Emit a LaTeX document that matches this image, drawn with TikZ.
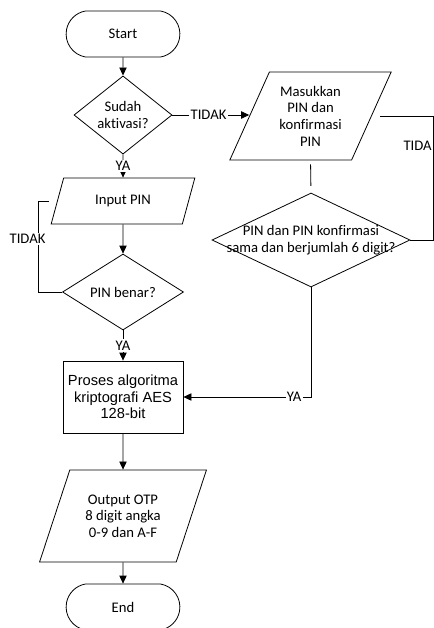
\documentclass[tikz,border=0pt]{standalone}
\usepackage{fontspec}
\setmainfont{Carlito}[Ligatures=NoCommon]
\newfontfamily\arialfont{Liberation Sans}
\usetikzlibrary{shapes.geometric,shapes.misc,arrows.meta}

\begin{document}
\begin{tikzpicture}[x=0.75pt,y=-0.75pt,
  font=\fontsize{11}{12.5}\selectfont,
  every node/.style={align=center},
  line width=0.6pt,
  >={Triangle[length=6pt,width=5.5pt]},
  terminal/.style={draw,rounded rectangle,rounded rectangle arc length=160,
    minimum width=92pt,minimum height=34.5pt},
  decision/.style={draw,diamond,inner sep=0pt},
  io/.style={draw,trapezium,trapezium left angle=63.5,trapezium right angle=116.5,
    trapezium stretches=true,inner sep=0pt},
  process/.style={draw,rectangle,font=\arialfont\fontsize{11}{12.4}\selectfont},
  lbl/.style={fill=white,inner sep=1pt}]
  \useasboundingbox (0,0) rectangle (434,628);
  \node[terminal] (start) at (123,34) {Start};
  \node[decision,minimum width=73.5pt,minimum height=46.5pt] (aktif) at (123,115) {Sudah\\aktivasi?};
  \node[io,minimum width=108pt,minimum height=34.5pt] (input) at (123,201) {Input PIN};
  \node[decision,minimum width=90.75pt,minimum height=47.25pt] (benar) at (123,292) {PIN benar?};
  \node[process,minimum width=90pt,minimum height=54pt] (aes) at (123,397) {Proses algoritma\\kriptografi AES\\128-bit};
  \node[io,minimum width=126pt,minimum height=69pt] (otp) at (123,516) {Output OTP\\8 digit angka\\0-9 dan A-F};
  \node[terminal] (end) at (123,607) {End};
  \node[io,minimum width=122.25pt,minimum height=66pt] (masuk) at (310.5,116) {Masukkan\\PIN dan\\konfirmasi\\PIN};
  \node[decision,minimum width=148.5pt,minimum height=70.5pt,
    label=center:{PIN dan PIN konfirmasi\\sama dan berjumlah 6 digit?}] (cocok) at (311,240) {};

  \draw[->] (start) -- (aktif);
  \draw[->] (aktif) -- node[lbl]{YA} (input);
  \draw[->] (aktif.east) -- node[lbl,pos=0.47]{TIDAK} (aktif.east -| masuk.west);
  \draw[shorten <=3pt,shorten >=5pt] (masuk.south) -- (cocok.north);
  \draw[shorten >=6pt] (cocok.east) -- ++(23,0) |- node[lbl,pos=0.38,anchor=east]{TIDA} (masuk.east);
  \draw[->] (cocok.south) |- node[lbl,pos=0.566]{YA} (aes.east);
  \draw[->] (input) -- (benar);
  \draw[shorten >=6pt] (benar.west) -- ++(-24,0) |- node[lbl,pos=0.29,anchor=east,xshift=6.75pt]{TIDAK} (input.west);
  \draw[->] (benar) -- node[lbl]{YA} (aes);
  \draw[->] (aes) -- (otp);
  \draw[->] (otp) -- (end);
\end{tikzpicture}
\end{document}
